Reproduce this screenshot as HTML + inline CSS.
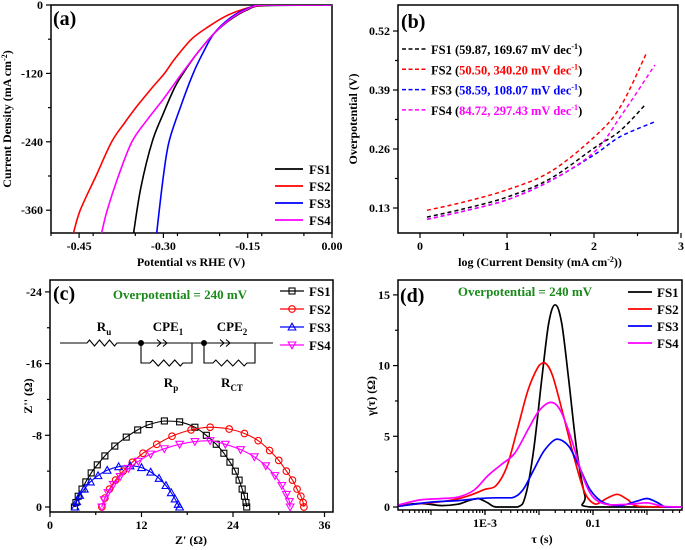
<!DOCTYPE html>
<html><head><meta charset="utf-8"><style>
body{margin:0;background:#fff}
svg{display:block}
text{font-family:"Liberation Serif",serif;font-weight:bold}
</style></head><body>
<svg id="s" width="685" height="550" viewBox="0 0 685 550" xmlns="http://www.w3.org/2000/svg"></svg>
<script>
// ---------- Panel (a) data: LSV ----------
const aSeries = ['FS1','FS2','FS3','FS4'];
const aFS1V = [0,-0.12,-0.15,-0.18,-0.21,-0.24,-0.265,-0.28,-0.30,-0.32,-0.34,-0.353];
const aFS1J = [0,-1,-8,-25,-50,-85,-120,-145,-190,-240,-320,-400];
const aFS2V = [0,-0.1,-0.13,-0.16,-0.19,-0.22,-0.25,-0.28,-0.298,-0.32,-0.345,-0.37,-0.392,-0.42,-0.448,-0.46];
const aFS2J = [0,-0.2,-1,-8,-20,-38,-60,-95,-120,-145,-175,-208,-240,-300,-360,-400];
const aFS3V = [0,-0.12,-0.15,-0.18,-0.21,-0.23,-0.247,-0.27,-0.29,-0.30,-0.312];
const aFS3J = [0,0,-6,-22,-50,-85,-120,-180,-240,-300,-400];
const aFS4V = [0,-0.12,-0.15,-0.18,-0.21,-0.24,-0.267,-0.30,-0.33,-0.356,-0.38,-0.40,-0.41];
const aFS4J = [0,0,-7,-24,-50,-85,-120,-165,-203,-240,-300,-360,-400];
const aXTicks = [-0.45,-0.30,-0.15,0.00];
const aYTicks = [0,-120,-240,-360];
// ---------- Panel (b) data: Tafel ----------
const bX = [0.08,0.5,1,1.5,2,2.3,2.6];
const bFS1 = [0.11,0.128,0.154,0.195,0.262,0.30,0.36];
const bFS2 = [0.125,0.143,0.17,0.21,0.286,0.352,0.47];
const bX34 = [0.08,0.5,1,1.5,2,2.3,2.7];
const bFS3 = [0.105,0.123,0.148,0.19,0.247,0.287,0.32];
const bFS4 = [0.105,0.123,0.148,0.19,0.253,0.33,0.445];
const bXTicks = [0,1,2,3];
const bYTicks = [0.13,0.26,0.39,0.52];
const bLegendA = ['59.87, 169.67','50.50, 340.20','58.59, 108.07','84.72, 297.43'];
// ---------- Panel (c) data: Nyquist ----------
const cFS1x = [3.2,3.4,3.7,4.2,4.7,5.4,6.2,7.2,8.5,10,11.5,13,15,17,19,20.5,21.8,22.8,23.6,24.3,24.8,25.2,25.5,25.7,25.8];
const cFS1y = [0,-0.5,-1.2,-2,-2.8,-3.8,-4.7,-5.7,-6.8,-7.8,-8.6,-9.2,-9.6,-9.5,-8.9,-8,-7,-6,-5,-4,-3,-2,-1.2,-0.5,0];
const cFS2x = [6.8,7.2,7.8,8.6,9.6,10.8,12.2,14,16,18.5,21,23.5,25.5,27.3,28.8,30,31,31.8,32.4,32.9,33.2,33.3];
const cFS2y = [0,-1,-2,-3,-4,-5,-6,-7,-7.9,-8.6,-8.9,-8.7,-8.2,-7.4,-6.3,-5.2,-4,-3,-2,-1.2,-0.5,0];
const cFS3x = [3.3,3.5,3.9,4.5,5.3,6.3,7.5,9,10.5,12,13.2,14.3,15.2,15.9,16.4,16.8,17];
const cFS3y = [0,-0.6,-1.3,-2,-2.8,-3.5,-4.1,-4.5,-4.6,-4.4,-3.9,-3.2,-2.4,-1.6,-0.9,-0.3,0];
const cFS4x = [6.8,7.1,7.6,8.3,9.2,10.3,11.6,13.2,15,17,19,21,23,25,26.8,28.3,29.5,30.4,31,31.4,31.5];
const cFS4y = [0,-0.8,-1.6,-2.5,-3.4,-4.3,-5.1,-5.9,-6.5,-7,-7.3,-7.4,-7,-6.4,-5.6,-4.6,-3.5,-2.4,-1.4,-0.6,0];
const cXTicks = [0,12,24,36];
const cYTicks = [0,-8,-16,-24];
// ---------- Panel (d) data: DRT (log10 tau) ----------
const dFS1t = [-4.6,-4.2,-3.8,-3.5,-3.3,-3.13,-2.95,-2.8,-2.4,-2.25,-2.1,-1.95,-1.82,-1.7,-1.58,-1.45,-1.3,-1.15,-1.05,0.65];
const dFS1g = [0.1,0.25,0.1,0.2,0.45,0.6,0.3,0,0,0.8,4,9,13,14.3,13,9,4,0.8,0,0];
const dFS2t = [-4.6,-4.0,-3.6,-3.3,-3.0,-2.8,-2.6,-2.4,-2.2,-2.0,-1.89,-1.75,-1.55,-1.35,-1.15,-0.95,-0.75,-0.55,-0.35,-0.15,0.65];
const dFS2g = [0.1,0.3,0.5,0.8,1.25,1.5,2.8,5.5,8.3,10,10.2,9.3,6.5,3.5,1.0,0.2,0.6,0.9,0.5,0.05,0];
const dFS3t = [-4.6,-4.0,-3.5,-3.1,-2.8,-2.5,-2.3,-2.1,-1.9,-1.67,-1.45,-1.25,-1.05,-0.8,-0.5,-0.2,0.0,0.2,0.35,0.65];
const dFS3g = [0.05,0.35,0.45,0.6,0.65,0.65,1.2,2.6,4,4.8,4.3,2.8,1.2,0.3,0.1,0.4,0.6,0.3,0,0];
const dFS4t = [-4.6,-4.2,-3.8,-3.5,-3.2,-2.95,-2.7,-2.45,-2.2,-2.0,-1.78,-1.6,-1.4,-1.2,-1.0,-0.7,-0.3,0,0.3,0.65];
const dFS4g = [0.15,0.5,0.6,0.7,1.2,2.2,3.0,3.8,5.5,6.8,7.4,6.8,4.8,2.3,0.7,0.15,0.2,0.3,0.05,0];
const dYTicks = [0,5,10,15];
const dXTicks = [-3,-1];
const dXTickLabels = ['1E-3','0.1'];

const colors = ['#000','#f00','#00f','#f0f'];
const NS='http://www.w3.org/2000/svg';
const svg=document.getElementById('s');
function el(tag,attrs,parent){const e=document.createElementNS(NS,tag);for(const k in attrs)e.setAttribute(k,attrs[k]);(parent||svg).appendChild(e);return e;}
function txt(s,x,y,size,anchor,fill,parent){const t=el('text',{x:x,y:y,'font-size':size,'text-anchor':anchor||'middle',fill:fill||'#000'},parent);t.textContent=s;return t;}
function lin(d0,d1,r0,r1){return v=>r0+(v-d0)/(d1-d0)*(r1-r0);}
function clamp(v,a,b){const lo=Math.min(a,b),hi=Math.max(a,b);return Math.max(lo,Math.min(hi,v));}
function smooth(pts){let d='M'+pts[0][0].toFixed(1)+','+pts[0][1].toFixed(1);for(let i=0;i<pts.length-1;i++){const p0=pts[i-1]||pts[i],p1=pts[i],p2=pts[i+1],p3=pts[i+2]||p2;
const c1=[p1[0]+(p2[0]-p0[0])/6,clamp(p1[1]+(p2[1]-p0[1])/6,p1[1],p2[1])],c2=[p2[0]-(p3[0]-p1[0])/6,clamp(p2[1]-(p3[1]-p1[1])/6,p1[1],p2[1])];
d+='C'+c1[0].toFixed(1)+','+c1[1].toFixed(1)+' '+c2[0].toFixed(1)+','+c2[1].toFixed(1)+' '+p2[0].toFixed(1)+','+p2[1].toFixed(1);}return d;}
function frame(g,x0,y0,x1,y1){el('rect',{x:x0,y:y0,width:x1-x0,height:y1-y0,fill:'none',stroke:'#000','stroke-width':1.5},g);}
function tick(g,x1,y1,x2,y2){el('line',{x1:x1,y1:y1,x2:x2,y2:y2,stroke:'#000','stroke-width':1.2},g);}

// ================= Panel A =================
(function(){
const g=el('g',{});
const X=lin(-0.5,0,51,332),Y=lin(0,-400,5,233);
const clip=el('clipPath',{id:'ca'},g);el('rect',{x:51,y:5,width:281,height:228},clip);
frame(g,51,5,332,233);
aXTicks.forEach(v=>{tick(g,X(v),233,X(v),238);txt(v.toFixed(2),X(v),250,12,'middle','#000',g);});
for(let v=-0.5;v<=0.001;v+=0.075){tick(g,X(v),233,X(v),236);}
aYTicks.forEach(v=>{tick(g,46,Y(v),51,Y(v));txt(String(v),43,Y(v)+4,12,'end','#000',g);});
for(let v=-60;v>-400;v-=120){tick(g,48,Y(v),51,Y(v));}
const Vs=[aFS1V,aFS2V,aFS3V,aFS4V],Js=[aFS1J,aFS2J,aFS3J,aFS4J];
Vs.forEach((vv,i)=>{const p=el('path',{d:smooth(vv.map((v,k)=>[X(v),Y(Js[i][k])])),fill:'none',stroke:colors[i],'stroke-width':1.6,'clip-path':'url(#ca)'},g);
});
aSeries.forEach((s,i)=>{const y=169+i*17;const lg=el('g',{},g);
el('line',{x1:275,y1:y,x2:303,y2:y,stroke:colors[i],'stroke-width':1.8},lg);txt(s,309,y+5,13,'start','#000',lg);});
const t=txt('(a)',53,25,20,'start','#000',g);
const xl=txt('Potential vs RHE (V)',191,266,12,'middle','#000',g);
const yl=el('text',{x:0,y:0,'font-size':12,'text-anchor':'middle',transform:'translate(11,119) rotate(-90)'},g);yl.innerHTML='Current Density (mA cm<tspan dy="-4" font-size="8">-2</tspan><tspan dy="4">)</tspan>';

})();

// ================= Panel B =================
(function(){
const g=el('g',{});
const X=lin(0,1,420,507),Y=lin(0.13,0.52,208,31);
frame(g,398,5,678,233);
bXTicks.forEach(v=>{tick(g,X(v),233,X(v),238);txt(String(v),X(v),250,12,'middle','#000',g);});
for(let v=0.5;v<3;v+=1){tick(g,X(v),233,X(v),236);}
bYTicks.forEach(v=>{tick(g,393,Y(v),398,Y(v));txt(v.toFixed(2),390,Y(v)+4,12,'end','#000',g);});
for(let v=0.195;v<0.57;v+=0.13){tick(g,395,Y(v),398,Y(v));}
const xs=[bX,bX,bX34,bX34],ys=[bFS1,bFS2,bFS3,bFS4];
ys.forEach((yy,i)=>{const p=el('path',{d:smooth(yy.map((v,k)=>[X(xs[i][k]),Y(v)])),fill:'none',stroke:colors[i],'stroke-width':1.5,'stroke-dasharray':'4,3'},g);
});
aSeries.forEach((s,i)=>{const y=49+i*20.3;const lg=el('g',{},g);
el('line',{x1:402,y1:y,x2:426,y2:y,stroke:colors[i],'stroke-width':1.5,'stroke-dasharray':'4,2.5'},lg);
const t=el('text',{x:431,y:y+5,'font-size':12.5},lg);
t.innerHTML='<tspan fill="#000">'+s+' (</tspan><tspan fill="'+colors[i]+'">'+bLegendA[i]+' mV dec<tspan dy="-5" font-size="8">-1</tspan></tspan><tspan dy="5" fill="#000">)</tspan>';});
const t=txt('(b)',401,28,20,'start','#000',g);
const xl=el('text',{x:540,y:266,'font-size':12,'text-anchor':'middle'},g);xl.innerHTML='log (Current Density (mA cm<tspan dy="-4" font-size="8">-2</tspan><tspan dy="4">))</tspan>';

const yl=txt('Overpotential (V)',0,0,12,'middle','#000',g);yl.setAttribute('transform','translate(357,119) rotate(-90)');

})();

// ================= Panel C =================
(function(){
const g=el('g',{});
const X=lin(0,12,50,141.5),Y=lin(0,-8,507,435.3);
frame(g,50,280,333,512);
cXTicks.forEach(v=>{tick(g,X(v),512,X(v),517);txt(String(v),X(v),529,12,'middle','#000',g);});
for(let v=6;v<37;v+=12){tick(g,X(v),512,X(v),515);}
cYTicks.forEach(v=>{tick(g,45,Y(v),50,Y(v));txt(String(v),42,Y(v)+4,12,'end','#000',g);});
for(let v=-4;v>-25;v-=8){tick(g,47,Y(v),50,Y(v));}
function marker(i,x,y,parent){
 if(i===0)return el('rect',{x:x-3,y:y-3,width:6,height:6,fill:'none',stroke:colors[i],'stroke-width':1.1},parent);
 if(i===1)return el('circle',{cx:x,cy:y,r:3.3,fill:'none',stroke:colors[i],'stroke-width':1.1},parent);
 if(i===2)return el('path',{d:`M${x},${y-3.8}L${x+3.8},${y+3}L${x-3.8},${y+3}Z`,fill:'none',stroke:colors[i],'stroke-width':1.1},parent);
 return el('path',{d:`M${x},${y+3.8}L${x+3.8},${y-3}L${x-3.8},${y-3}Z`,fill:'none',stroke:colors[i],'stroke-width':1.1},parent);}
const xs=[cFS1x,cFS2x,cFS3x,cFS4x],ys=[cFS1y,cFS2y,cFS3y,cFS4y];
xs.forEach((xx,i)=>{const sg=el('g',{},g);
el('path',{d:smooth(xx.map((v,k)=>[X(v),Y(ys[i][k])])),fill:'none',stroke:colors[i],'stroke-width':1.1},sg);
xx.forEach((v,k)=>{const m=marker(i,X(v),Y(ys[i][k]),sg);});});
aSeries.forEach((s,i)=>{const y=291+i*18;const lg=el('g',{},g);
el('line',{x1:280,y1:y,x2:304,y2:y,stroke:colors[i],'stroke-width':1.3},lg);marker(i,292,y,lg);txt(s,309,y+5,13,'start','#000',lg);});
const ov=txt('Overpotential = 240 mV',180,299,13,'middle','#1a8a1a',g);
const cg=el('g',{fill:'none',stroke:'#000','stroke-width':1.1},g);
function zig(x0,x1,y){let d=`M${x0},${y}`;const n=6,w=(x1-x0)/n;for(let k=0;k<n;k++){d+=`L${x0+w*(k+0.5)},${y+(k%2?3:-3)}`;}d+=`L${x1},${y}`;return d;}
el('path',{d:`M60,343L87,343`+zig(87,117,343).replace('M','L')+`L204,343`+`M204,343L273,343`},cg);
el('path',{d:`M141,343L141,363L150,363`+zig(150,183,363).replace('M','L')+`L192,363L192,343`},cg);
el('path',{d:`M204,343L204,363L213,363`+zig(213,247,363).replace('M','L')+`L255,363L255,343`},cg);
[[157,168],[220,231]].forEach(a=>{el('path',{d:`M${a[0]},339.5L${a[0]+4},343L${a[0]},346.5M${a[0]+6},339.5L${a[0]+10},343L${a[0]+6},346.5`},cg);});
el('circle',{cx:141,cy:343,r:3,fill:'#000',stroke:'none'},g);el('circle',{cx:204,cy:343,r:3,fill:'#000',stroke:'none'},g);
function lab(main,sub,x,y){const t=el('text',{x:x,y:y,'font-size':13,'text-anchor':'middle'},g);t.innerHTML=main+'<tspan dy="4" font-size="9">'+sub+'</tspan>';return t;}
lab('R','u',104,331);lab('CPE','1',168,331);lab('CPE','2',232,331);lab('R','p',171,387);lab('R','CT',232,387);
const t=txt('(c)',53,300,20,'start','#000',g);
const xl=txt("Z' (\u03A9)",191,544,12,'middle','#000',g);
const yl=txt("Z'' (\u03A9)",0,0,12,'middle','#000',g);yl.setAttribute('transform','translate(32,396) rotate(-90)');

})();

// ================= Panel D =================
(function(){
const g=el('g',{});
const X=lin(-3,-1,485,593),Y=lin(0,5,507,436.3);
const clip=el('clipPath',{id:'cd'},g);el('rect',{x:398,y:280,width:284,height:230},clip);
frame(g,398,280,682,510);
dXTicks.forEach((v,k)=>{tick(g,X(v),510,X(v),515);txt(dXTickLabels[k],X(v),527,12,'middle','#000',g);});
for(let d=-5;d<1;d++){for(let m=1;m<10;m++){const lv=d+Math.log10(m);const px=X(lv);if(px>398&&px<682){const major=(m===1);tick(g,px,510,px,major?515:513);}}}
dYTicks.forEach(v=>{tick(g,393,Y(v),398,Y(v));txt(String(v),390,Y(v)+4,12,'end','#000',g);});
for(let v=2.5;v<16;v+=5){tick(g,395,Y(v),398,Y(v));}
const ts=[dFS1t,dFS2t,dFS3t,dFS4t],gs=[dFS1g,dFS2g,dFS3g,dFS4g];
ts.forEach((tt,i)=>{const p=el('path',{d:smooth(tt.map((v,k)=>[X(v),Y(gs[i][k])])),fill:'none',stroke:colors[i],'stroke-width':1.7,'clip-path':'url(#cd)'},g);
});
aSeries.forEach((s,i)=>{const y=292+i*17;const lg=el('g',{},g);
el('line',{x1:628,y1:y,x2:652,y2:y,stroke:colors[i],'stroke-width':1.8},lg);txt(s,657,y+5,13,'start','#000',lg);});
const ov=txt('Overpotential = 240 mV',525,296,13,'middle','#1a8a1a',g);
const t=txt('(d)',400,302,20,'start','#000',g);
const xl=txt('\u03C4 (s)',542,543,12,'middle','#000',g);
const yl=el('text',{x:0,y:0,'font-size':12,'text-anchor':'middle','font-weight':'normal',transform:'translate(375,396) rotate(-90)'},g);yl.textContent='\u03B3(\u03C4) (\u03A9)';

})();
</script>
</body></html>
